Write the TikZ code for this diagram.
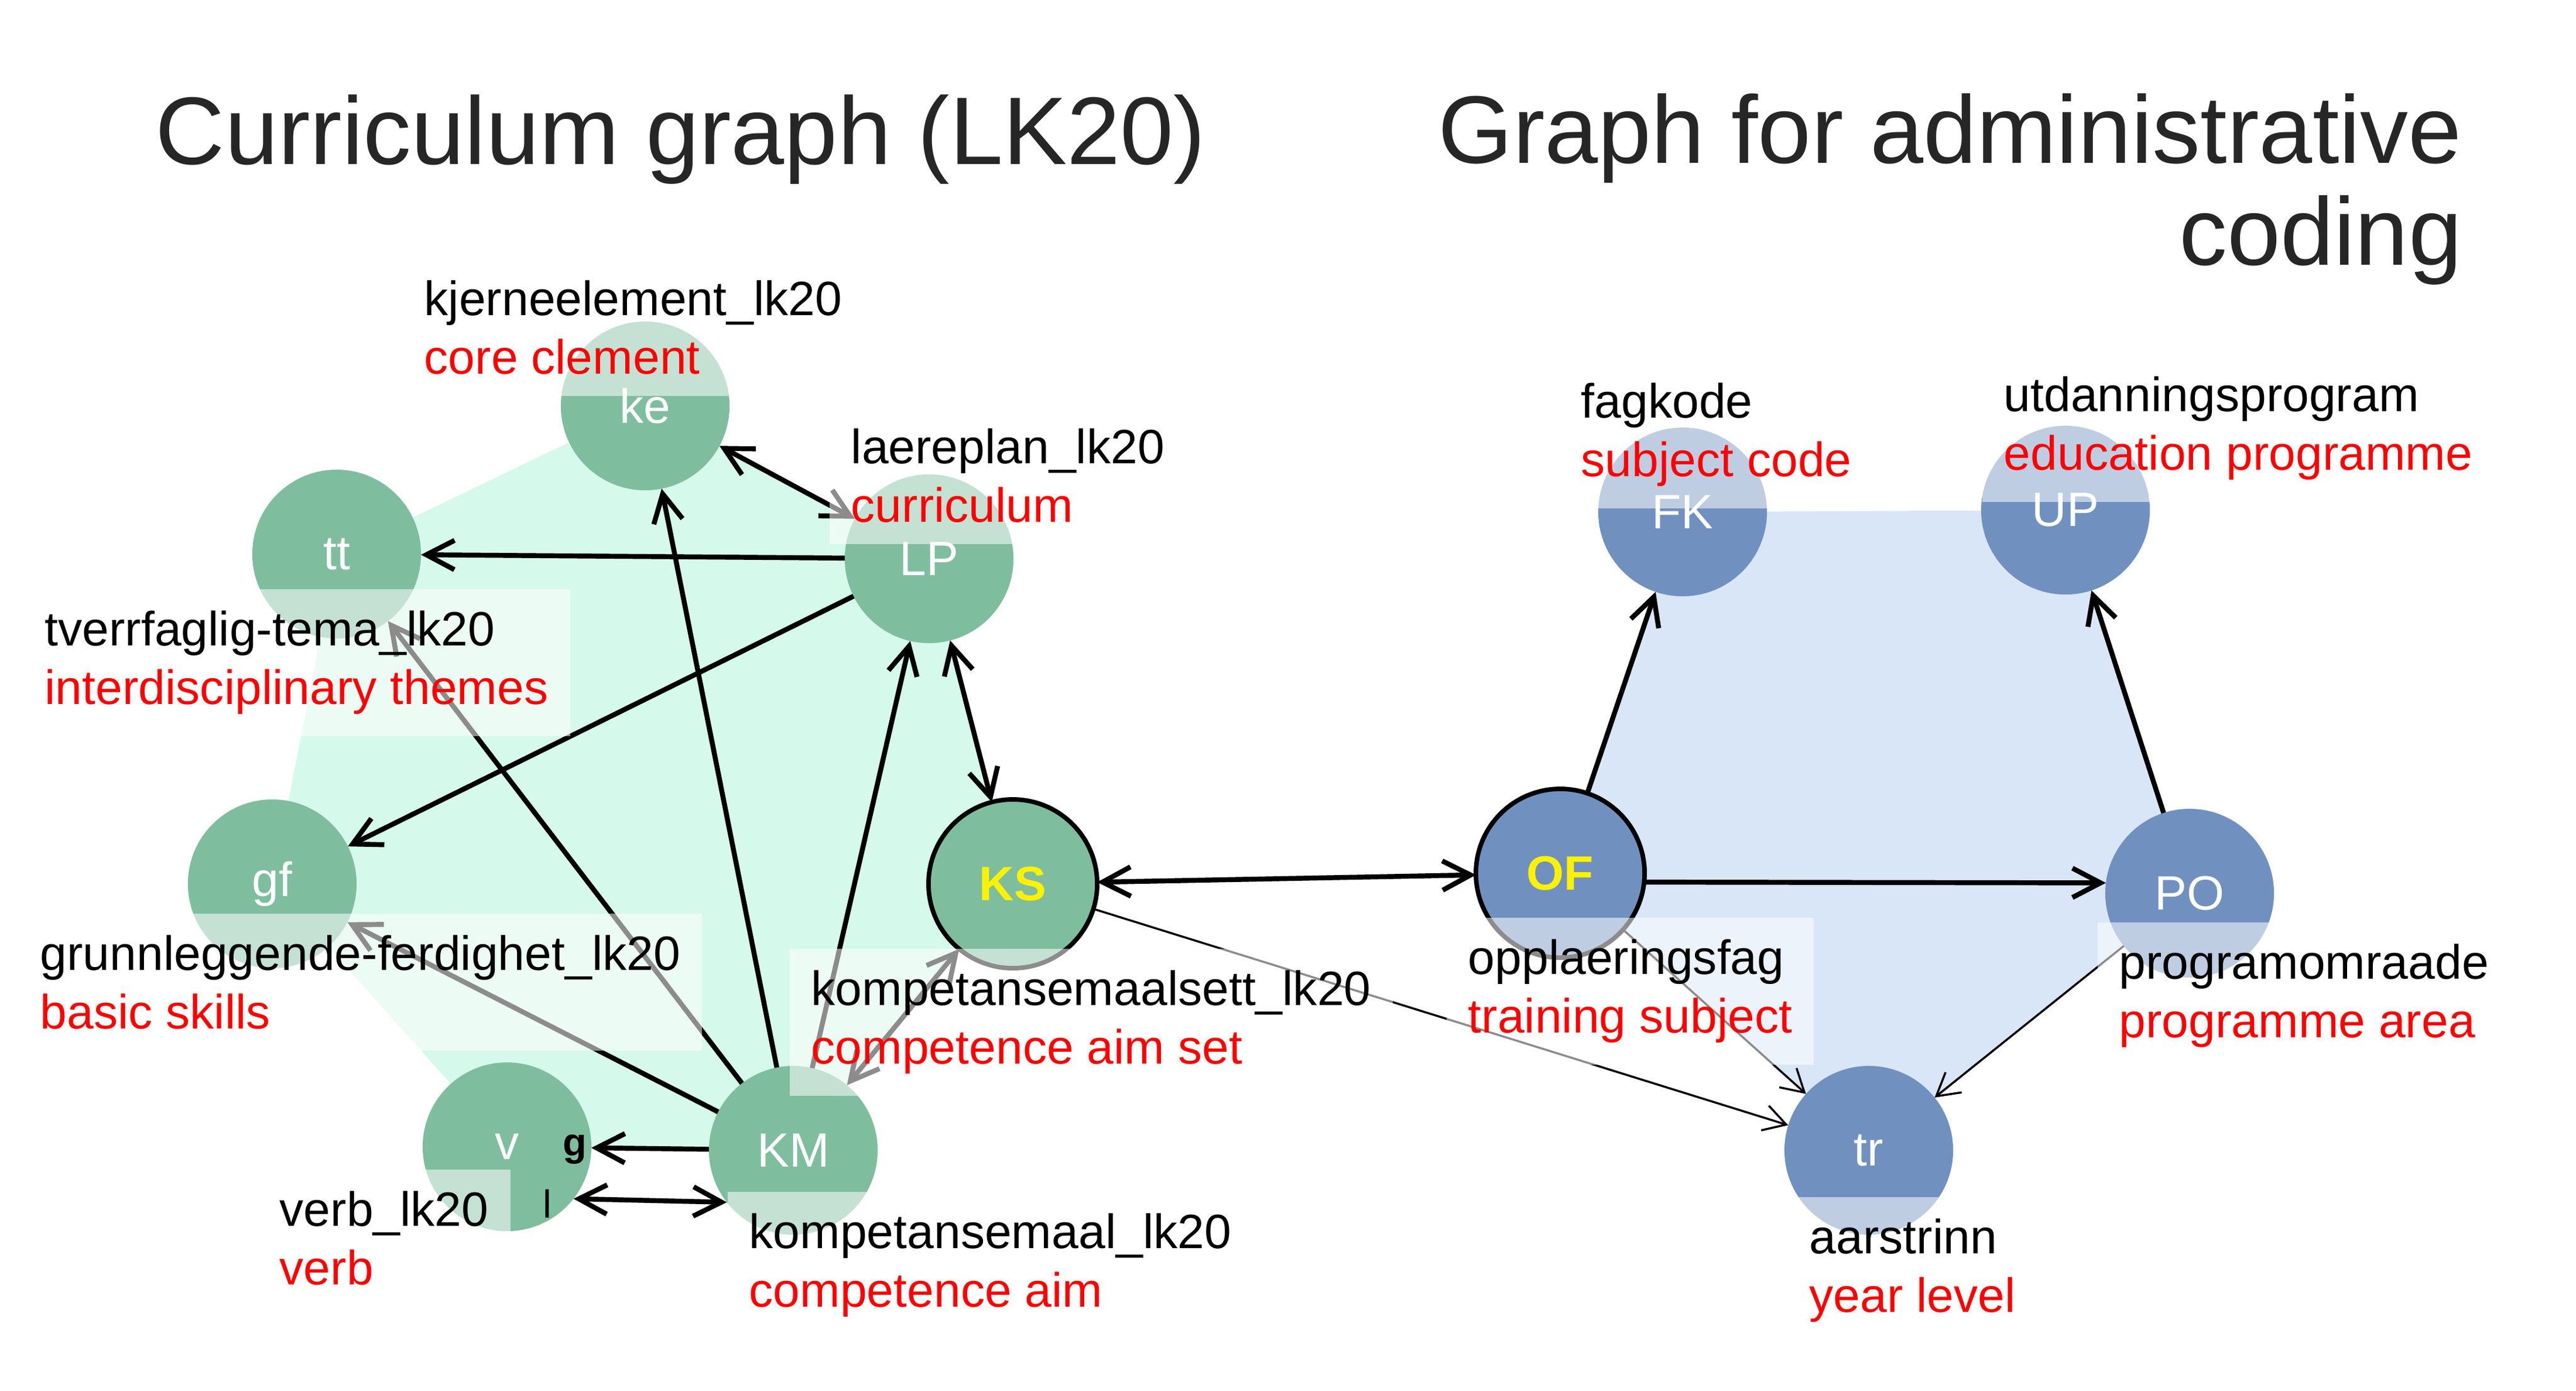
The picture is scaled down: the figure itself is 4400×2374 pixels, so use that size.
\documentclass[tikz,border=0pt]{standalone}
\usepackage{fontspec}
\setmainfont{Liberation Sans}
\usepackage{tikz}
\usetikzlibrary{positioning, arrows.meta}
\usepackage{xcolor}
\definecolor{kgreen}{HTML}{7EBE9E}
\definecolor{khull}{HTML}{D5F9EA}
\definecolor{ablue}{HTML}{7091C0}
\definecolor{ahull}{HTML}{D9E6F8}
\definecolor{titlegray}{HTML}{262626}
\pgfdeclarelayer{bg}
\pgfsetlayers{bg,main}

\begin{document}
\begin{tikzpicture}[
    x=0.01cm, y=-0.01cm,
    every node/.style={font=\fontsize{23.4pt}{28.45pt}\selectfont},
    knode/.style={circle, fill=kgreen, text=white, minimum size=2.88cm, inner sep=0pt, outer sep=0pt},
    anode/.style={knode, fill=ablue},
    hub/.style={draw=black, line width=2.2pt, text=yellow, font=\fontsize{23.4pt}{28.45pt}\selectfont\bfseries},
    lbl/.style={anchor=north west, align=left, fill=white, fill opacity=0.55, text opacity=1, inner sep=0.37cm},
    ttlfont/.style={inner sep=0pt, text=titlegray, font=\fontsize{46.6pt}{49.5pt}\selectfont},
    big/.style={line width=2.4pt, -{Straight Barb[length=4.8mm, width=5mm]}},
    bigboth/.style={line width=2.4pt, {Straight Barb[length=4.8mm, width=5mm]}-{Straight Barb[length=4.8mm, width=5mm]}},
    weak/.style={line width=1pt, -{Straight Barb[length=3.8mm, width=4.4mm]}}
]
\useasboundingbox (0,0) rectangle (4400,2374);

% Titles
\node[ttlfont, anchor=base west] (ttlL) at (265,280) {Curriculum graph (LK20)};
\node[ttlfont, anchor=north east, align=right] (ttlR) at (4206,159) {Graph for administrative\\coding};

% Nodes LK20
\node[knode] (ke) at (1102,693) {ke};
\node[knode] (tt) at (575,946) {tt};
\node[knode] (LP) at (1587,954) {LP};
\node[knode] (gf) at (465,1509) {gf};
\node[knode, hub] (KS) at (1730,1509) {KS};
\node[knode] (v) at (866,1958) {v};
\node[knode] (KM) at (1355,1964) {KM};

% Nodes admin
\node[anode] (FK) at (2874,874) {FK};
\node[anode] (UP) at (3528,871) {UP};
\node[anode, hub] (OF) at (2665,1491) {OF};
\node[anode] (PO) at (3740,1525) {PO};
\node[anode] (tr) at (3192,1964) {tr};

% Hulls
\begin{pgfonlayer}{bg}
\fill[khull] (ke.center) -- (LP.center) -- (KS.center) -- (KM.center) -- (v.center) -- (gf.center) -- (tt.center) -- cycle;
\fill[ahull] (FK.center) -- (UP.center) -- (PO.center) -- (tr.center) -- (OF.center) -- cycle;
\end{pgfonlayer}

% Edges
\draw[bigboth] (LP) -- (ke);
\draw[big] (LP) -- (tt);
\draw[big] (LP) -- (gf);
\draw[bigboth] (LP) -- (KS);
\draw[big] (KM) -- (ke);
\draw[big] (KM) -- (tt);
\draw[big] (KM) -- (gf);
\draw[big] (KM) -- (LP);
\draw[bigboth] (KM) -- (KS);
\draw[big] (KM) -- (v);
\draw[bigboth] (v.-38.7) -- (KM.218.7);
\draw[bigboth] (KS) -- (OF);
\draw[weak] (KS) -- (tr);
\draw[big] (OF) -- (FK);
\draw[big] (OF.-6.4) -- (PO.173.6);
\draw[weak] (OF) -- (tr);
\draw[big] (PO) -- (UP);
\draw[weak] (PO) -- (tr);

% Labels
\node[lbl] (keL) at (687,441) {kjerneelement\_lk20\\\textcolor{red}{core clement}};
\node[lbl] (LPL) at (1416,694) {laereplan\_lk20\\\textcolor{red}{curriculum}};
\node[lbl] (ttL) at (39,1005) {tverrfaglig-tema\_lk20\\\textcolor{red}{interdisciplinary themes}};
\node[lbl] (gfL) at (31,1559) {grunnleggende-ferdighet\_lk20\\\textcolor{red}{basic skills}};
\node[lbl] (KSL) at (1348,1619) {kompetansemaalsett\_lk20\\\textcolor{red}{competence aim set}};
\node[lbl] (vL) at (440,1996) {verb\_lk20\\\textcolor{red}{verb}};
\node[lbl] (KML) at (1242,2034) {kompetansemaal\_lk20\\\textcolor{red}{competence aim}};
\node[lbl] (FKL) at (2663,616) {fagkode\\\textcolor{red}{subject code}};
\node[lbl] (UPL) at (3385,605) {utdanningsprogram\\\textcolor{red}{education programme}};
\node[lbl] (OFL) at (2470,1566) {opplaeringsfag\\\textcolor{red}{training subject}};
\node[lbl] (POL) at (3582,1574) {programomraade\\\textcolor{red}{programme area}};
\node[lbl] (trL) at (3053,2043) {aarstrinn\\\textcolor{red}{year level}};

% stray glyphs
\node[inner sep=0pt, font=\fontsize{19pt}{22pt}\selectfont\bfseries] (vg) at (982,1963) {g};
\node[inner sep=0pt, font=\fontsize{19pt}{22pt}\selectfont] (vl) at (935,2055) {l};

\end{tikzpicture}
\end{document}
